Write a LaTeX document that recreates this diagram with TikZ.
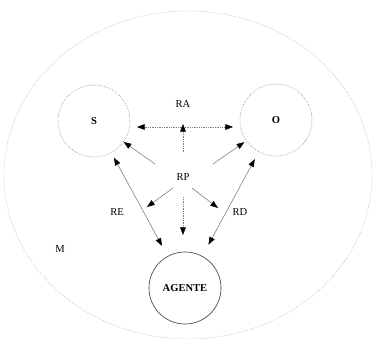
\documentclass[tikz,border=0pt]{standalone}
\usepackage{fontspec}
\setmainfont{Liberation Serif}
\usetikzlibrary{positioning, arrows.meta}

\begin{document}
\begin{tikzpicture}[x=0.03cm, y=-0.03cm, font=\fontsize{9}{11}\selectfont,
                    tip/.style={-{Triangle[length=2.3mm, width=1.7mm, color=black]}},
                    both/.style={{Triangle[length=2.3mm, width=1.7mm, color=black]}-{Triangle[length=2.3mm, width=1.7mm, color=black]}},
                    link/.style={gray, line width=0.5pt},
                    dots/.style={gray, densely dotted, line width=0.5pt},
                    ball/.style={circle, minimum size=2.16cm, inner sep=0pt, text=black, font=\fontsize{9}{11}\selectfont\bfseries}]
                    \useasboundingbox (0,0) rectangle (373,338);

                    % medio
                    \draw[gray!80, densely dotted, line width=0.4pt] (188,175) ellipse [x radius=5.52cm, y radius=4.92cm];
                    \node (M) at (60,249) {M};

                    \node[dots, ball, draw] (S) at (94,121) {S};
                    \node[dots, ball, draw] (O) at (276,120) {O};
                    \node[ball, draw=black!70, line width=0.6pt] (AGENTE) at (185,288) {AGENTE};

                    \node (RA) at (183,104) {RA};
                    \node (RP) at (183,177) {RP};
                    \node (RE) at (117,212) {RE};
                    \node (RD) at (240,212) {RD};

                    \coordinate (ra-l) at (137,127);
                    \coordinate (ra-r) at (233,127);
                    \coordinate (rp-n) at (183,152);
                    \coordinate (rp-up) at (183,124);
                    \coordinate (rp-s) at (155,164);
                    \coordinate (rp-o) at (213,164);
                    \coordinate (rp-sw) at (173,188);
                    \coordinate (rp-dl) at (147,207);
                    \coordinate (rp-se) at (192,188);
                    \coordinate (rp-dr) at (218,208);
                    \coordinate (rp-d) at (183,197);
                    \coordinate (rp-down) at (183,235);

                    \draw[dots, both] (ra-l) -- (ra-r);
                    \draw[dots, tip] (rp-n) -- (rp-up);
                    \draw[dots, tip] (rp-d) -- (rp-down);
                    \draw[link, tip] (rp-s) -- (S);
                    \draw[link, tip, shorten >=2pt] (rp-o) -- (O);
                    \draw[link, tip] (rp-sw) -- (rp-dl);
                    \draw[link, tip] (rp-se) -- (rp-dr);

                    \draw[link, both, shorten <=4.7pt, shorten >=10pt] (S) -- (AGENTE);
                    \draw[link, both, shorten <=7pt, shorten >=11pt] (O) -- (AGENTE);
                 \end{tikzpicture}
\end{document}
